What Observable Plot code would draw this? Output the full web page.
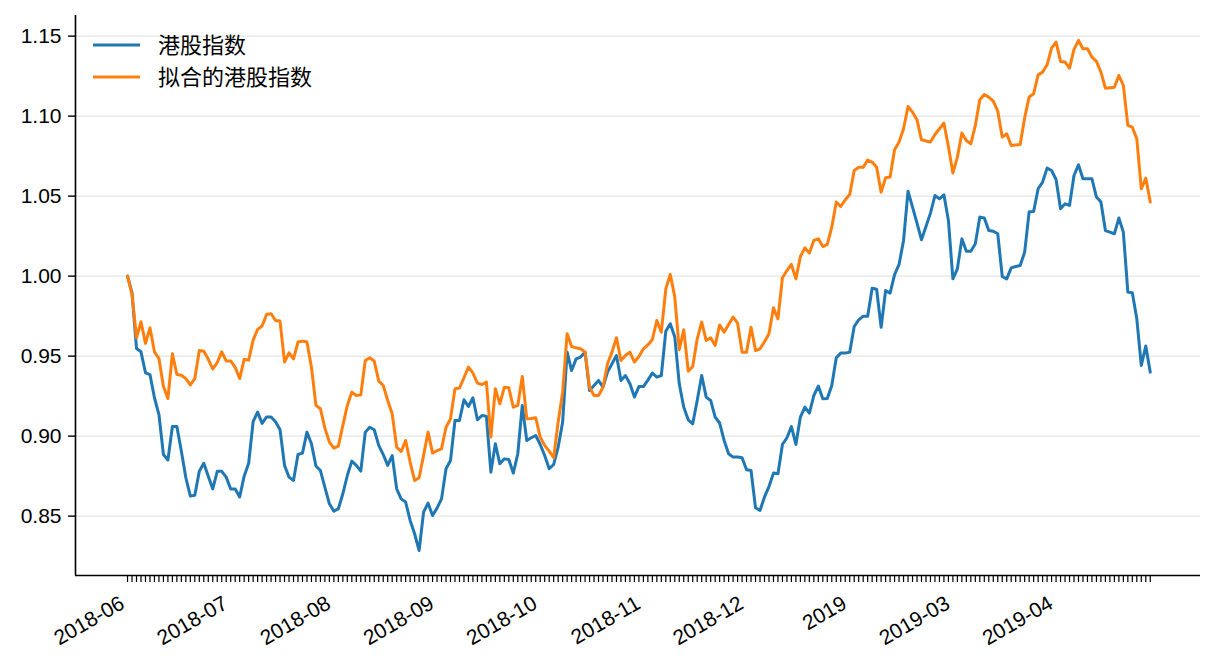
<!DOCTYPE html>
<html>
<head>
<meta charset="utf-8">
<script src="https://cdn.jsdelivr.net/npm/d3@7"></script>
<script src="https://cdn.jsdelivr.net/npm/@observablehq/plot@0.6"></script>
<style>
  html, body { margin: 0; padding: 0; background: #fff; }
  #chart svg { display: block; }
</style>
</head>
<body>
<div id="chart"></div>
<script>
// 港股指数 (blue), one value per trading day
const hsi = [
  1.000, 0.9896, 0.9548, 0.9527, 0.9396, 0.9385, 0.924, 0.9135, 0.8885, 0.885,
  0.906, 0.906, 0.8906, 0.874, 0.8625, 0.863, 0.878, 0.883, 0.875, 0.867,
  0.878, 0.878, 0.8744, 0.867, 0.867, 0.862, 0.875, 0.883, 0.909, 0.915,
  0.908, 0.912, 0.912, 0.909, 0.904, 0.8817, 0.8744, 0.8723, 0.8885, 0.8894,
  0.9025, 0.8952, 0.8813, 0.8785, 0.868, 0.8577, 0.8531, 0.8546, 0.864, 0.8754,
  0.8844, 0.8817, 0.8781, 0.9025, 0.9056, 0.904, 0.8942, 0.8885, 0.8817, 0.8879,
  0.8671, 0.8608, 0.8588, 0.8473, 0.839, 0.8285, 0.8525, 0.8581, 0.8504, 0.855,
  0.8608, 0.8796, 0.8848, 0.9098, 0.9098, 0.9227, 0.9185, 0.924, 0.9102, 0.9129,
  0.9125, 0.8775, 0.8952, 0.8827, 0.8858, 0.8854, 0.8769, 0.889, 0.9192, 0.8973,
  0.899, 0.9004, 0.8948, 0.8879, 0.8796, 0.8823, 0.8931, 0.9088, 0.9525, 0.941,
  0.9483, 0.9494, 0.9525, 0.9285, 0.9317, 0.9348, 0.9306, 0.94, 0.9452, 0.9504,
  0.9348, 0.9379, 0.9327, 0.9244, 0.931, 0.931, 0.935, 0.9394, 0.9369, 0.9379,
  0.9656, 0.9702, 0.9619, 0.9327, 0.9181, 0.9102, 0.9077, 0.9223, 0.9379, 0.9244,
  0.9223, 0.9119, 0.9082, 0.8973, 0.889, 0.8869, 0.8869, 0.8865, 0.879, 0.8785,
  0.8552, 0.8535, 0.862, 0.8685, 0.8769, 0.8765, 0.8948, 0.899, 0.906, 0.8948,
  0.9119, 0.9181, 0.9144, 0.9254, 0.9313, 0.9233, 0.9235, 0.9317, 0.949, 0.9519,
  0.9519, 0.9525, 0.9685, 0.9727, 0.975, 0.975, 0.9925, 0.9918, 0.968, 0.991,
  0.9894, 1.001, 1.0073, 1.0223, 1.0531, 1.0431, 1.0331, 1.0227, 1.031, 1.0394,
  1.0504, 1.0483, 1.0508, 1.0348, 0.9983, 1.0046, 1.0233, 1.0156, 1.0156, 1.0202,
  1.0369, 1.0363, 1.0285, 1.0281, 1.0265, 0.9998, 0.9983, 1.0052, 1.006, 1.0067,
  1.015, 1.0402, 1.0404, 1.0546, 1.0588, 1.0675, 1.066, 1.0604, 1.0421, 1.0452,
  1.0442, 1.0629, 1.0696, 1.0608, 1.0608, 1.0608, 1.0494, 1.0463, 1.0285, 1.0275,
  1.0265, 1.0363, 1.0275, 0.99, 0.9896, 0.9733, 0.9442, 0.9563, 0.94
];

// 拟合的港股指数 (orange)
const fitted = [
  1.000, 0.9885, 0.9615, 0.9715, 0.958, 0.9677, 0.9527, 0.9485, 0.931, 0.9235,
  0.9515, 0.9385, 0.938, 0.936, 0.932, 0.936, 0.9535, 0.953, 0.948, 0.942,
  0.946, 0.9527, 0.947, 0.947, 0.943, 0.936, 0.948, 0.9475, 0.96, 0.9667,
  0.9688, 0.976, 0.9765, 0.9723, 0.9719, 0.9463, 0.9521, 0.9483, 0.9588, 0.9594,
  0.9588, 0.9431, 0.9192, 0.9171, 0.905, 0.8963, 0.8925, 0.8938, 0.9067, 0.9192,
  0.9275, 0.9254, 0.9258, 0.9473, 0.949, 0.9469, 0.9344, 0.9317, 0.9223, 0.914,
  0.8931, 0.8904, 0.8973, 0.8838, 0.8723, 0.874, 0.888, 0.9025, 0.8894, 0.891,
  0.8921, 0.9056, 0.9108, 0.9296, 0.93, 0.9365, 0.9431, 0.9394, 0.9331, 0.9323,
  0.9338, 0.8994, 0.9296, 0.9202, 0.9306, 0.9302, 0.9181, 0.9192, 0.9373, 0.9108,
  0.911, 0.9115, 0.8994, 0.8942, 0.8906, 0.8865, 0.9088, 0.9275, 0.964, 0.956,
  0.9552, 0.9546, 0.9525, 0.9306, 0.9254, 0.9254, 0.9306, 0.9452, 0.9525, 0.9615,
  0.9473, 0.9504, 0.9525, 0.9463, 0.9498, 0.9546, 0.957, 0.9604, 0.9723, 0.965,
  0.9921, 1.001, 0.9869, 0.954, 0.9665, 0.9406, 0.9435, 0.9608, 0.9713, 0.9598,
  0.9615, 0.9567, 0.9695, 0.965, 0.9698, 0.9744, 0.9706, 0.9525, 0.9525, 0.9681,
  0.9535, 0.9546, 0.959, 0.964, 0.9802, 0.9733, 0.999, 1.0035, 1.0073, 0.9983,
  1.0123, 1.0177, 1.0144, 1.0223, 1.0233, 1.0185, 1.0198, 1.0306, 1.0463, 1.0435,
  1.0477, 1.051, 1.066, 1.068, 1.068, 1.0725, 1.0713, 1.0681, 1.0525, 1.0615,
  1.0619, 1.079, 1.0838, 1.0921, 1.106, 1.1025, 1.0977, 1.0852, 1.0845, 1.0838,
  1.0885, 1.0921, 1.0956, 1.081, 1.0644, 1.0744, 1.0894, 1.0848, 1.0827, 1.0942,
  1.1102, 1.1135, 1.1119, 1.1094, 1.1031, 1.0869, 1.089, 1.0817, 1.082, 1.0823,
  1.099, 1.112, 1.114, 1.1258, 1.1275, 1.1321, 1.1425, 1.1463, 1.1342, 1.1338,
  1.13, 1.1417, 1.1473, 1.1421, 1.1421, 1.1369, 1.1342, 1.1275, 1.1175, 1.1178,
  1.1181, 1.1254, 1.1192, 1.0942, 1.0931, 1.0858, 1.0546, 1.0613, 1.0463
];

// x tick labels and the day index where each is placed
const tickLabels = ["2018-06", "2018-07", "2018-08", "2018-09", "2018-10", "2018-11", "2018-12", "2019", "2019-03", "2019-04"];
const tickLabelIndex = [0, 23, 46, 69, 92, 115, 138, 161, 184, 207];
const yTicks = [0.85, 0.90, 0.95, 1.00, 1.05, 1.10, 1.15];
const seriesNames = ["港股指数", "拟合的港股指数"];
const seriesColors = ["#1f77b4", "#ff7f0e"];

const dayIndex = d3.range(hsi.length);
const xDomain = [-11.6, 239.2];
const yDomain = [0.8129, 1.1629];
const numFont = "'Liberation Sans', Arial, Helvetica, sans-serif";
const cjkFont = "'Noto Sans CJK SC', 'Noto Sans', sans-serif";

const chart = Plot.plot({
  width: 1216,
  height: 672,
  marginLeft: 75,
  marginRight: 16,
  marginTop: 15,
  marginBottom: 97,
  style: { fontFamily: numFont, fontSize: "20px", background: "#fff", color: "#000", overflow: "visible" },
  x: { type: "linear", domain: xDomain },
  y: { type: "linear", domain: yDomain },
  marks: [
    Plot.gridY(yTicks, { stroke: "#e6e6e6", strokeOpacity: 1, strokeWidth: 1.4 }),
    Plot.axisY(yTicks, {
      tickSize: 7, tickPadding: 7, strokeWidth: 1.4,
      tickFormat: d => d.toFixed(2), label: null, fontSize: 21, fill: "#000"
    }),
    Plot.axisX(dayIndex, { tickSize: 7, strokeWidth: 1.2, tickFormat: () => "", label: null }),
    Plot.text(tickLabelIndex, {
      x: d => d, text: (d, i) => tickLabels[i],
      frameAnchor: "bottom", rotate: -30, textAnchor: "end", lineAnchor: "middle",
      dx: -5, dy: 26, fontSize: 21, fill: "#000"
    }),
    Plot.ruleX([xDomain[0]], { stroke: "#000", strokeWidth: 1.6 }),
    Plot.ruleY([yDomain[0]], { stroke: "#000", strokeWidth: 1.6 }),
    Plot.lineY(hsi, { x: (d, i) => i, y: d => d, stroke: seriesColors[0], strokeWidth: 3 }),
    Plot.lineY(fitted, { x: (d, i) => i, y: d => d, stroke: seriesColors[1], strokeWidth: 3 })
  ]
});

document.getElementById("chart").appendChild(chart);

// legend inside the axes, top-left
const svg = d3.select(chart);
const lg = svg.append("g").attr("class", "legend").attr("text-anchor", "start");
seriesNames.forEach((name, k) => {
  const y = 45 + k * 32;
  lg.append("line")
    .attr("x1", 93).attr("x2", 140).attr("y1", y).attr("y2", y)
    .attr("stroke", seriesColors[k]).attr("stroke-width", 3);
  lg.append("text")
    .attr("x", 158).attr("y", y).attr("dy", "0.36em")
    .attr("text-anchor", "start")
    .attr("fill", "#000")
    .style("font-family", cjkFont).style("font-size", "22px")
    .text(name);
});
</script>
</body>
</html>
